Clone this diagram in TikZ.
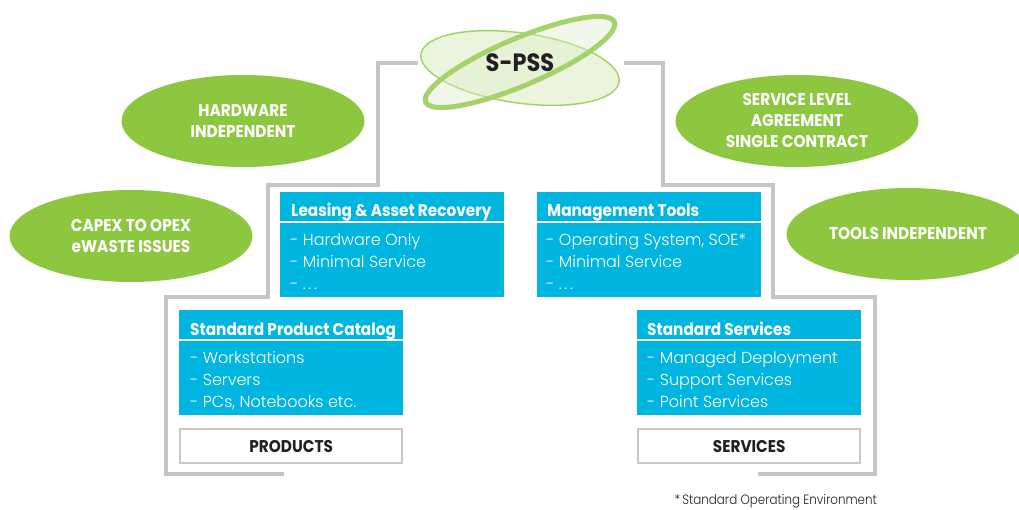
\documentclass[tikz,border=0pt]{standalone}
\usepackage{fontspec}
\setmainfont{Poppins}[UprightFont=* Light]
\newfontfamily\headfont{Poppins}[FakeStretch=0.9]
\newfontfamily\notefont{Poppins}[UprightFont=* Light,FakeStretch=0.88]
\usetikzlibrary{positioning,shapes.geometric}
\definecolor{boxblue}{HTML}{00B5E0}
\definecolor{leafgreen}{HTML}{8DC63F}
\definecolor{linegray}{HTML}{C4C5C8}
\definecolor{framegray}{HTML}{C8C8C8}
\definecolor{spssline}{HTML}{A6D26B}
\definecolor{spssfill}{HTML}{DDEEC8}
\definecolor{inkdark}{HTML}{231F20}

\begin{document}
\begin{tikzpicture}[x=1pt,y=1pt,
	link/.style={draw=linegray,line width=4pt},
	blue box/.style={fill=boxblue,minimum width=224pt,minimum height=105pt,anchor=north west,inner sep=0pt},
	head/.style={anchor=base west,text=white,inner sep=0pt,font=\headfont\bfseries\fontsize{17}{20}\selectfont},
	body/.style={anchor=north west,align=left,text=white,inner sep=0pt,font=\fontsize{16}{22}\selectfont},
	green node/.style={ellipse,fill=leafgreen,minimum width=243pt,minimum height=92pt,align=center,text=white,font=\headfont\bfseries\fontsize{17}{21}\selectfont},
	label box/.style={draw=framegray,line width=1.5pt,minimum width=222pt,minimum height=34pt,text=inkdark,font=\headfont\bfseries\fontsize{17}{20}\selectfont}]
				
				\useasboundingbox (0,0) rectangle (1019,-510);
				
				\node[blue box] (lease) at (280,-192) {};
				\node[blue box] (mgmt) at (537,-192) {};
				\node[blue box] (catalog) at (179,-310) {};
				\node[blue box] (std) at (637,-310) {};
				
				\node[head] (lease head) at ([shift={(11,-25)}]lease.north west) {Leasing \& Asset Recovery};
				\node[head] (mgmt head) at ([shift={(10,-25)}]mgmt.north west) {Management Tools};
				\node[head] (catalog head) at ([shift={(11,-25)}]catalog.north west) {Standard Product Catalog};
				\node[head] (std head) at ([shift={(10,-25)}]std.north west) {Standard Services};
				
				\foreach \b in {lease,mgmt,catalog,std}
				\draw[white,line width=2pt] ([yshift=-30]\b.north west) -- ([yshift=-30]\b.north east);
				
				\node[body] (lease list) at ([shift={(10,-41)}]lease.north west) {- Hardware Only\\- Minimal Service\\- .\,.\,.};
				\node[body] (mgmt list) at ([shift={(9,-41)}]mgmt.north west) {- Operating System, SOE*\\- Minimal Service\\- .\,.\,.};
				\node[body] (catalog list) at ([shift={(11,-41)}]catalog.north west) {- Workstations\\- Servers\\- PCs, Notebooks etc.};
				\node[body] (std list) at ([shift={(10,-41)}]std.north west) {- Managed Deployment\\- Support Services\\- Point Services};
				
				\node[label box] (products) [below=13 of catalog] {PRODUCTS};
				\node[label box] (services) [below=13 of std] {SERVICES};
				
				\node[green node] (hw) at (243,-121) {HARDWARE\\INDEPENDENT};
				\node[green node] (capex) at (131,-236) {CAPEX TO OPEX\\eWASTE ISSUES};
				\node[green node] (sla) at (797,-121) {SERVICE LEVEL\\AGREEMENT\\SINGLE CONTRACT};
				\node[green node] (tools) at (908,-234) {TOOLS INDEPENDENT};
				
				\coordinate (prod end) at (284,-474);
				\coordinate (serv end) at (758,-474);
				\node[inner sep=0pt,font=\headfont\bfseries\fontsize{25}{28}\selectfont] (spss) at (520,-63) {\phantom{S-PSS}};
				
				\draw[link] ([xshift=-102]spss.center) -| (378,-185) -| (268,-297) -| (166,-474) -- (prod end);
				\draw[link] ([xshift=104]spss.center) -| (663,-185) -| (773,-297) -| (875,-474) -- (serv end);
				
				\node[ellipse,draw=spssline,line width=1.5pt,fill=spssfill,fill opacity=0.6,minimum width=200pt,minimum height=70pt,rotate=-8] (spss a) at (520,-68) {};
				\node[ellipse,draw=spssline,line width=5pt,fill=spssfill,fill opacity=0.4,minimum width=205pt,minimum height=47pt,rotate=23] (spss b) at (520,-62) {};
				\node[inner sep=0pt,text=inkdark,font=\headfont\bfseries\fontsize{25}{28}\selectfont] at (spss) {S-PSS};
				
				\node[anchor=base east,inner sep=0pt,text=inkdark,font=\notefont\fontsize{13.5}{15}\selectfont] (note) at (877,-504) {*\,Standard Operating Environment};
				\end{tikzpicture}
\end{document}
